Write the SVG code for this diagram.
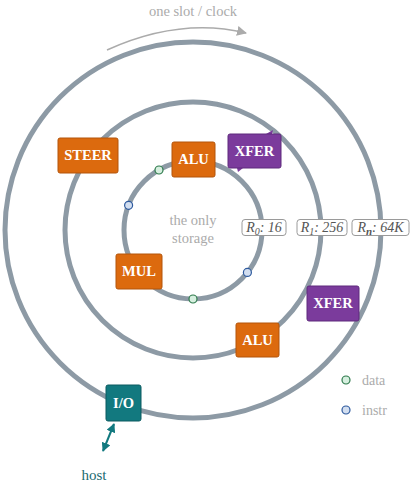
<svg xmlns="http://www.w3.org/2000/svg" width="412" height="487" viewBox="0 0 412 487">
<style>
.ring{fill:none;stroke:#8d9aa5;stroke-width:5}
.box{stroke-width:1}
.orange{fill:#dc6a0e;stroke:#b3540a}
.purple{fill:#7b3b9c;stroke:#5f2a7c}
.teal{fill:#12797f;stroke:#0b5b60}
.lbl{font-family:"Liberation Serif","Times New Roman",serif;font-weight:bold;font-size:14.5px;fill:#fff;text-anchor:middle}
.reg{fill:#fff;stroke:#9a9a9a;stroke-width:1}
.regt{font-family:"Liberation Serif","Times New Roman",serif;font-style:italic;font-size:14px;fill:#555;text-anchor:middle}
.gray{font-family:"Liberation Serif","Times New Roman",serif;font-size:14.5px;fill:#ababab;text-anchor:middle}
.leg{font-family:"Liberation Serif","Times New Roman",serif;font-size:14px;fill:#ababab}
.data{fill:#d6efdf;stroke:#2e7a4c;stroke-width:1.2}
.instr{fill:#d2def0;stroke:#2e5a9e;stroke-width:1.2}
</style>
<defs>
<marker id="ah" viewBox="0 0 10 10" refX="9" refY="5" markerWidth="10" markerHeight="10" markerUnits="userSpaceOnUse" orient="auto"><path d="M0,0L10,5L0,10z" fill="#ababab"/></marker>
<marker id="th" viewBox="0 0 10 10" refX="9" refY="5" markerWidth="9" markerHeight="9" markerUnits="userSpaceOnUse" orient="auto-start-reverse"><path d="M0,0L10,5L0,10z" fill="#12797f"/></marker>
</defs>
<text class="gray" x="193" y="16">one slot / clock</text>
<g id="rings">
<circle class="ring" cx="193" cy="230" r="188"/>
<circle class="ring" cx="193" cy="230" r="128"/>
<circle class="ring" cx="193" cy="230" r="69"/>
</g>
<g id="connectors">
<path d="M107,50 Q180,17 246,33" fill="none" stroke="#ababab" stroke-width="1.5" marker-end="url(#ah)"/>
<line x1="114" y1="424" x2="103" y2="451" stroke="#12797f" stroke-width="2" marker-start="url(#th)" marker-end="url(#th)"/>
</g>
<text class="gray" x="193" y="225">the only</text>
<text class="gray" x="193" y="243">storage</text>
<g id="dots">
<circle class="data" cx="159" cy="170" r="4"/>
<circle class="instr" cx="128.6" cy="205.3" r="4"/>
<circle class="instr" cx="247.4" cy="272.4" r="4"/>
<circle class="data" cx="193" cy="299" r="4"/>
</g>
<g id="steer"><rect class="box orange" x="58" y="138" width="60" height="35" rx="2"/><text class="lbl" x="88" y="160">STEER</text></g>
<g id="alu1"><rect class="box orange" x="172" y="142" width="43" height="35" rx="2"/><text class="lbl" x="193.5" y="164">ALU</text></g>
<g id="xfer1"><path d="M266,134 L273,130 L272,134 Z M237,168 L238,172 L243,168 Z" fill="#7b3b9c"/><rect class="box purple" x="228" y="134" width="53" height="34" rx="2"/><text class="lbl" x="254.5" y="156">XFER</text></g>
<g id="mul"><rect class="box orange" x="116" y="254" width="46" height="35" rx="2"/><text class="lbl" x="139" y="276">MUL</text></g>
<g id="xfer2"><rect class="box purple" x="307" y="286" width="52" height="35" rx="2"/><text class="lbl" x="333" y="308">XFER</text></g>
<g id="alu2"><rect class="box orange" x="236" y="323" width="43" height="34" rx="2"/><text class="lbl" x="257.5" y="345">ALU</text></g>
<g id="io"><rect class="box teal" x="106" y="385" width="35" height="36" rx="2"/><text class="lbl" x="123.5" y="408">I/O</text></g>
<g id="r0"><rect class="reg" x="242" y="219.5" width="44" height="16" rx="3"/><text class="regt" x="264" y="232">R<tspan font-size="10" dy="3">0</tspan><tspan dy="-3">: 16</tspan></text></g>
<g id="r1"><rect class="reg" x="297" y="219.5" width="50" height="16" rx="3"/><text class="regt" x="322" y="232">R<tspan font-size="10" dy="3">1</tspan><tspan dy="-3">: 256</tspan></text></g>
<g id="rn"><rect class="reg" x="352" y="219.5" width="57" height="16" rx="3"/><text class="regt" x="380.5" y="232">R<tspan font-size="11" font-weight="bold" dy="3">n</tspan><tspan dy="-3">: 64K</tspan></text></g>
<g id="host"><text x="94" y="480" font-family="Liberation Serif, Times New Roman, serif" font-size="15" fill="#1a6a70" text-anchor="middle">host</text></g>
<g id="legend">
<circle class="data" cx="346" cy="380" r="4"/>
<text class="leg" x="362" y="385">data</text>
<circle class="instr" cx="346" cy="410" r="4"/>
<text class="leg" x="362" y="415">instr</text>
</g>
</svg>
